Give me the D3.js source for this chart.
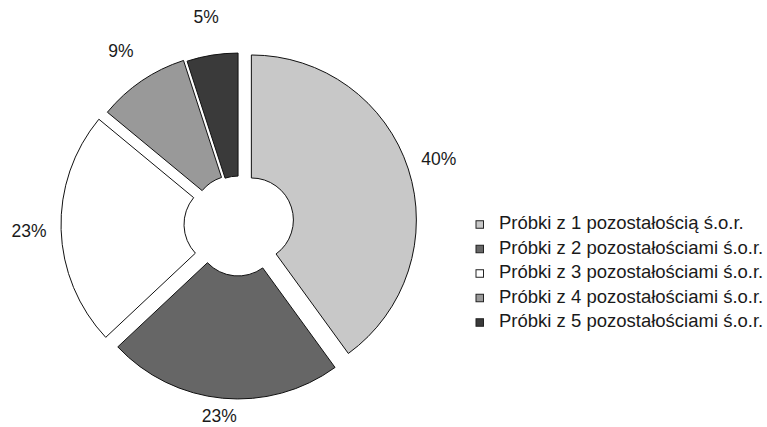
<!DOCTYPE html>
<html lang="pl">
<head>
<meta charset="utf-8">
<script src="https://cdn.jsdelivr.net/npm/d3@7"></script>
<style>
  html, body { margin: 0; padding: 0; background: #fff; }
  svg { display: block; font-family: "Liberation Sans", Arial, sans-serif; }
</style>
</head>
<body>
<svg id="chart" width="767" height="427"></svg>
<script>
// Share of samples by number of residues (percent)
const categories = [
  "Próbki z 1 pozostałością ś.o.r.",
  "Próbki z 2 pozostałościami ś.o.r.",
  "Próbki z 3 pozostałościami ś.o.r.",
  "Próbki z 4 pozostałościami ś.o.r.",
  "Próbki z 5 pozostałościami ś.o.r."
];
const values = [40, 23, 23, 9, 5];
const valueLabels = ["40%", "23%", "23%", "9%", "5%"];

// Fill for each slice
const fills = ["#c8c8c8", "#666666", "#ffffff", "#999999", "#3a3a3a"];

// Layout
const W = 767, H = 427;
const cx = 239, cy = 224;
const outerR = 165, innerR = 42;
const explode = [13, 10, 13, 8, 6];   // radial pull-out of each slice, px
const labelR = 210;                   // distance of label centres from the ring centre
const labelFont = 17.5;
const legendFont = 18.5;
const bottomLimit = 425;              // labels are kept inside the drawing area

const svg = d3.select("#chart");
svg.append("rect").attr("width", W).attr("height", H).attr("fill", "#fff");

const pie = d3.pie().sort(null).value(d => d)(values);
const arc = d3.arc().innerRadius(innerR).outerRadius(outerR);

const g = svg.append("g").attr("transform", `translate(${cx},${cy})`);

g.selectAll("path.slice")
  .data(pie)
  .join("path")
  .attr("class", "slice")
  .attr("d", arc)
  .attr("transform", (d, i) => {
    const a = (d.startAngle + d.endAngle) / 2;
    return `translate(${Math.sin(a) * explode[i]},${-Math.cos(a) * explode[i]})`;
  })
  .attr("fill", (d, i) => fills[i])
  .attr("stroke", "#111")
  .attr("stroke-width", 1)
  .attr("stroke-linejoin", "miter");

// Percentage labels outside the ring
const capH = labelFont * 0.716;
g.selectAll("text.pct")
  .data(pie)
  .join("text")
  .attr("class", "pct")
  .attr("text-anchor", "middle")
  .attr("font-size", labelFont)
  .attr("fill", "#1a1a1a")
  .text((d, i) => valueLabels[i])
  .each(function(d) {
    const a = (d.startAngle + d.endAngle) / 2;
    const x = Math.sin(a) * labelR;
    let base = -Math.cos(a) * labelR + capH / 2;
    base = Math.min(base, bottomLimit - cy - 3);
    d3.select(this).attr("x", x).attr("y", base);
  });

// Legend
const legX = 476, legTextX = 499, legY0 = 229, legStep = 24.5, sw = 7.5;
const leg = svg.append("g").attr("class", "legend");
const rows = leg.selectAll("g").data(categories).join("g")
  .attr("transform", (d, i) => `translate(0,${legY0 + i * legStep})`);
rows.append("rect")
  .attr("x", legX).attr("y", -4.5 - sw / 2)
  .attr("width", sw).attr("height", sw)
  .attr("fill", (d, i) => fills[i])
  .attr("stroke", "#222").attr("stroke-width", 1);
rows.append("text")
  .attr("x", legTextX).attr("y", 0)
  .attr("font-size", legendFont)
  .attr("fill", "#1a1a1a")
  .text(d => d);
</script>
</body>
</html>
